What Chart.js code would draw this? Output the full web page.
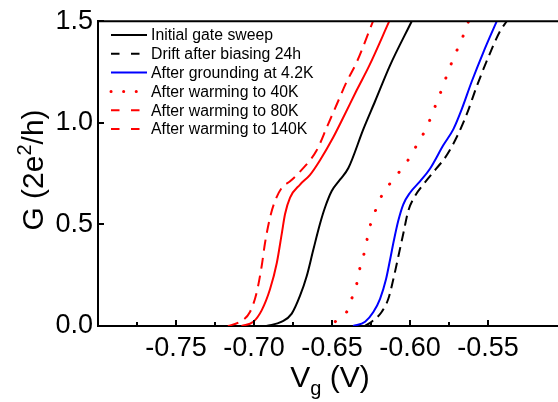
<!DOCTYPE html>
<html>
<head>
<meta charset="utf-8">
<script src="https://cdn.jsdelivr.net/npm/chart.js@4.4.1/dist/chart.umd.min.js"></script>
<style>
  html, body { margin: 0; padding: 0; background: #fff; overflow: hidden; }
  #wrap { width: 558px; height: 402px; }
</style>
</head>
<body>
<div id="wrap"><canvas id="myChart"></canvas></div>
<script>
// courbes G(Vg)
const vInitial = [-0.692, -0.6822, -0.6758, -0.6705, -0.6662, -0.662, -0.6577, -0.6545, -0.6502, -0.6449, -0.6396, -0.6299, -0.6224, -0.6128, -0.5989];
const gInitial = [0, 0.021, 0.061, 0.149, 0.246, 0.375, 0.503, 0.583, 0.664, 0.72, 0.776, 0.969, 1.106, 1.283, 1.5];

const vDrift = [-0.629, -0.6246, -0.6182, -0.6139, -0.6107, -0.6075, -0.6043, -0.6011, -0.5968, -0.5915, -0.5851, -0.5765, -0.5691, -0.5637, -0.5573, -0.5498, -0.5423, -0.538];
const gDrift = [0, 0.021, 0.069, 0.134, 0.23, 0.342, 0.455, 0.567, 0.64, 0.696, 0.757, 0.84, 0.945, 1.041, 1.178, 1.323, 1.451, 1.5];

const vGround = [-0.6365, -0.6288, -0.6235, -0.6192, -0.6154, -0.6128, -0.6103, -0.6075, -0.6043, -0.6, -0.5936, -0.5872, -0.5787, -0.5722, -0.5669, -0.5605, -0.553, -0.5444];
const gGround = [0, 0.021, 0.069, 0.134, 0.23, 0.326, 0.423, 0.519, 0.599, 0.656, 0.712, 0.774, 0.889, 0.969, 1.066, 1.202, 1.347, 1.5];

const v40K = [-0.6506, -0.6492, -0.6406, -0.6374, -0.6342, -0.6321, -0.6295, -0.6274, -0.6252, -0.6218, -0.6175, -0.6117, -0.6053, -0.5996, -0.5947, -0.5898, -0.5861, -0.5825, -0.5787, -0.5755, -0.5718, -0.568, -0.5641, -0.5625];
const g40K = [0, 0.013, 0.069, 0.134, 0.206, 0.286, 0.355, 0.431, 0.503, 0.575, 0.651, 0.712, 0.774, 0.836, 0.905, 0.969, 1.037, 1.109, 1.183, 1.254, 1.323, 1.392, 1.462, 1.5];

const v80K = [-0.708, -0.7004, -0.6951, -0.6897, -0.6854, -0.6822, -0.6801, -0.6769, -0.6705, -0.6641, -0.6577, -0.6492, -0.6428, -0.6342, -0.6262, -0.6133];
const g80K = [0, 0.021, 0.077, 0.182, 0.31, 0.455, 0.551, 0.632, 0.696, 0.744, 0.816, 0.929, 1.026, 1.16, 1.28, 1.5];

const v140K = [-0.7167, -0.709, -0.7026, -0.6983, -0.6951, -0.693, -0.6897, -0.6865, -0.6822, -0.6769, -0.6705, -0.6598, -0.6534, -0.647, -0.6406, -0.6342, -0.6237];
const g140K = [0, 0.021, 0.069, 0.165, 0.294, 0.406, 0.535, 0.616, 0.68, 0.712, 0.76, 0.865, 0.977, 1.09, 1.202, 1.298, 1.5];

const labels = ['Initial gate sweep', 'Drift after biasing 24h', 'After grounding at 4.2K', 'After warming to 40K', 'After warming to 80K', 'After warming to 140K'];

const FONT = "'Liberation Sans', Arial, sans-serif";

function pts(vs, gs) {
    return vs.map((v, i) => ({x: v, y: gs[i]}));
}

function serie(i, vs, gs, color, dash, legendDash, width) {
    return {
        label: labels[i],
        data: pts(vs, gs),
        borderColor: color,
        borderWidth: width || 2,
        borderDash: dash,
        borderDashOffset: dash.length && dash[0] < 1 ? 9 : 0,
        borderCapStyle: dash.length && dash[0] < 1 ? 'round' : 'butt',
        legendDash: legendDash,
        pointRadius: 0,
        fill: false,
        cubicInterpolationMode: 'monotone'
    };
}

const datasets = [
    serie(0, vInitial, gInitial, '#000000', [], []),
    serie(1, vDrift, gDrift, '#000000', [10, 6], [8.5, 11.5]),
    serie(2, vGround, gGround, '#0000ff', [], []),
    serie(3, v40K, g40K, '#ff0000', [0.1, 15], [0.1, 12.5], 3),
    serie(4, v80K, g80K, '#ff0000', [], [8.5, 11.5]),
    serie(5, v140K, g140K, '#ff0000', [11, 7], [8.5, 11.5])
];

function isStep(v, n) {
    return Math.abs(Math.round(v * n) - v * n) < 1e-6;
}

// ticks vers l'intérieur, cadre du haut, légende et titres des axes
const decor = {
    id: 'decor',
    afterDraw(chart) {
        const {ctx, chartArea: a, scales: {x, y}} = chart;
        ctx.save();
        ctx.strokeStyle = '#000';
        ctx.lineWidth = 2;
        ctx.beginPath();
        ctx.moveTo(a.left - 1, a.top);
        ctx.lineTo(chart.width, a.top);
        ctx.moveTo(a.right - 2, a.bottom);
        ctx.lineTo(chart.width, a.bottom);
        ctx.stroke();

        x.ticks.forEach(t => {
            if (!isStep(t.value, 40)) return;
            const px = Math.round(x.getPixelForValue(t.value));
            const len = isStep(t.value, 20) ? 6 : 4;
            ctx.beginPath();
            ctx.moveTo(px, a.bottom);
            ctx.lineTo(px, a.bottom - len);
            ctx.stroke();
        });
        y.ticks.forEach(t => {
            const py = Math.round(y.getPixelForValue(t.value));
            ctx.beginPath();
            ctx.moveTo(a.left, py);
            ctx.lineTo(a.left + 6, py);
            ctx.stroke();
        });

        // légende
        ctx.font = '15.8px ' + FONT;
        ctx.textBaseline = 'middle';
        ctx.textAlign = 'left';
        chart.data.datasets.forEach((ds, i) => {
            const ly = 35 + i * 18.8;
            ctx.strokeStyle = ds.borderColor;
            ctx.lineWidth = ds.borderWidth;
            ctx.lineCap = ds.borderCapStyle;
            ctx.setLineDash(ds.legendDash);
            ctx.beginPath();
            ctx.moveTo(111, ly);
            ctx.lineTo(147, ly);
            ctx.stroke();
            ctx.setLineDash([]);
            ctx.fillStyle = '#000';
            ctx.fillText(ds.label, 151, ly + 1);
        });

        // titre axe x : V_g (V)
        ctx.fillStyle = '#000';
        ctx.textBaseline = 'alphabetic';
        const big = '30px ' + FONT, small = '20px ' + FONT;
        ctx.font = big; const w1 = ctx.measureText('V').width; const w3 = ctx.measureText(' (V)').width;
        ctx.font = small; const w2 = ctx.measureText('g').width;
        let sx = 330 - (w1 + w2 + w3) / 2;
        const by = 387;
        ctx.font = big; ctx.fillText('V', sx, by);
        ctx.font = small; ctx.fillText('g', sx + w1, by + 8);
        ctx.font = big; ctx.fillText(' (V)', sx + w1 + w2, by);

        // titre axe y : G (2e^2/h)
        ctx.translate(43, 170);
        ctx.rotate(-Math.PI / 2);
        ctx.font = big; const a1 = ctx.measureText('G (2e').width; const a3 = ctx.measureText('/h)').width;
        ctx.font = small; const a2 = ctx.measureText('2').width;
        let tx = -(a1 + a2 + a3) / 2;
        ctx.font = big; ctx.fillText('G (2e', tx, 0);
        ctx.font = small; ctx.fillText('2', tx + a1, -12);
        ctx.font = big; ctx.fillText('/h)', tx + a1 + a2, 0);
        ctx.restore();
    }
};

new Chart(document.getElementById('myChart'), {
    type: 'line',
    data: { datasets: datasets },
    options: {
        responsive: true,
        maintainAspectRatio: false,
        animation: false,
        layout: { padding: { left: 0, top: 15, right: 0, bottom: 0 } },
        plugins: {
            legend: { display: false },
            tooltip: { enabled: false }
        },
        scales: {
            x: {
                type: 'linear',
                min: -0.80,
                max: -0.509,
                afterFit: (s) => { s.height = 76; },
                grid: { display: false, drawTicks: false },
                border: { display: true, color: '#000', width: 2 },
                ticks: {
                    stepSize: 0.025,
                    autoSkip: false,
                    maxRotation: 0,
                    padding: 6,
                    color: '#000',
                    font: { family: FONT, size: 27 },
                    callback: (v) => (isStep(v, 20) && v > -0.79 && v < -0.51) ? v.toFixed(2) : ''
                }
            },
            y: {
                min: 0,
                max: 1.5,
                afterFit: (s) => { s.width = 98; },
                grid: { display: false, drawTicks: false },
                border: { display: true, color: '#000', width: 2 },
                ticks: {
                    stepSize: 0.5,
                    padding: 5,
                    color: '#000',
                    font: { family: FONT, size: 27 },
                    callback: (v) => v.toFixed(1)
                }
            }
        }
    },
    plugins: [decor]
});
</script>
</body>
</html>
